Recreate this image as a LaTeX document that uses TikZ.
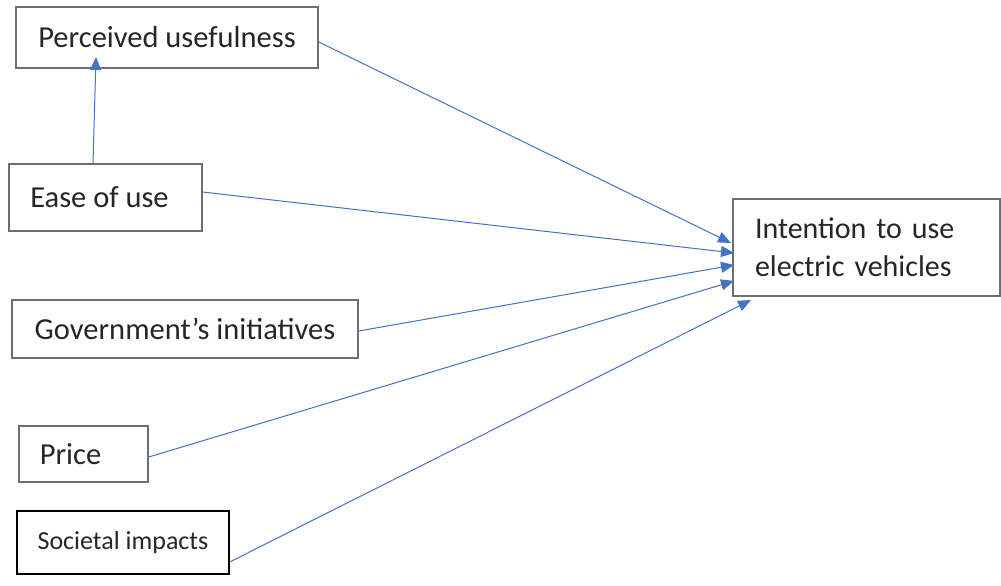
\documentclass[tikz,border=0pt]{standalone}
\usepackage{fontspec}
\setmainfont{Carlito}
\usetikzlibrary{arrows.meta}
\definecolor{linkblue}{HTML}{4472C4}
\definecolor{boxgray}{HTML}{6E6E6E}
\definecolor{txt}{HTML}{262626}
\begin{document}
\begin{tikzpicture}[x=1pt,y=-1pt,
  factor/.style={draw=boxgray,line width=1.4pt,rectangle,inner sep=0pt,text=txt,font=\fontsize{30.5}{36}\selectfont},
  link/.style={draw=linkblue,line width=1pt,-{Triangle[length=13pt,width=11pt]}}]
\useasboundingbox[fill=white] (0,0) rectangle (1001,586);
% construct boxes
\node[factor,minimum width=302pt,minimum height=61pt] (pu) at (167,37.5) {Perceived usefulness};
\node[factor,minimum width=193pt,minimum height=67pt] (ease) at (105.5,197.5) {\hspace*{-12pt}Ease of use};
\node[factor,minimum width=346pt,minimum height=58pt] (gov) at (185,329) {Government’s initiatives};
\node[factor,minimum width=129pt,minimum height=56pt] (price) at (83.5,454) {\hspace*{-26pt}Price};
\node[factor,draw=black,minimum width=212pt,minimum height=63pt,font=\fontsize{26}{30}\selectfont] (soc) at (123,542.5) {Societal impacts};
\node[factor,minimum width=267pt,minimum height=97pt,align=left,text width=223pt,font=\fontsize{30}{38}\selectfont] (int) at (866.5,247.5) {Intention to use\\electric vehicles};
% arrow tips
\coordinate (tpu) at (96,57);
\coordinate (t1) at (731,243);
\coordinate (t2) at (734,253);
\coordinate (t3) at (734,265);
\coordinate (t4) at (734,281);
\coordinate (t5) at (751,300);
% connectors
\draw[link] ([xshift=-12.5pt]ease.north) -- (tpu);
\draw[link] ([yshift=-4.5pt]pu.east) -- (t1);
\draw[link] ([yshift=5.5pt]ease.east) -- (t2);
\draw[link] ([yshift=-2pt]gov.east) -- (t3);
\draw[link] ([yshift=-3pt]price.east) -- (t4);
\draw[link] ([yshift=-19.5pt]soc.east) -- (t5);
\end{tikzpicture}
\end{document}
